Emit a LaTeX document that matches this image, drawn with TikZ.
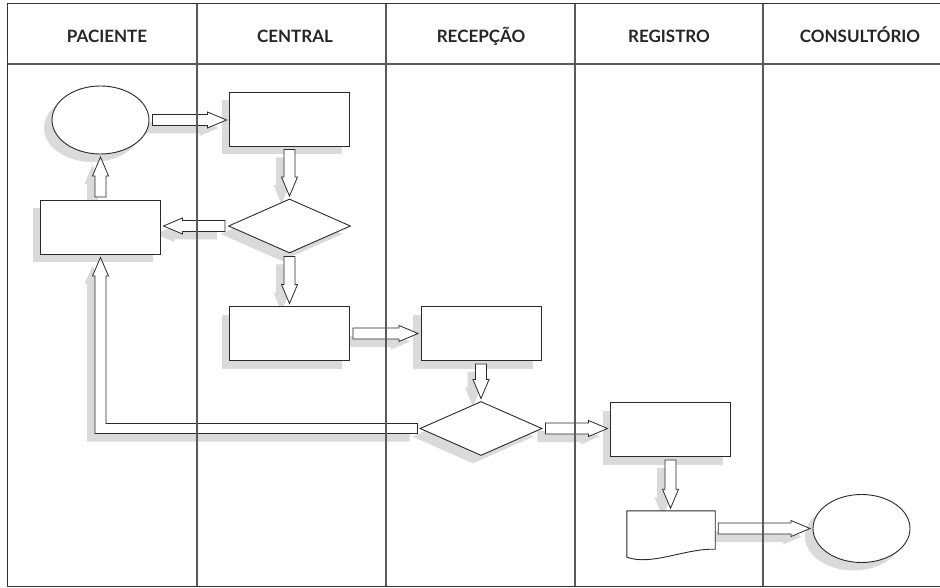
\documentclass[tikz,border=0pt]{standalone}
\usepackage{fontspec}
\setsansfont{Lato}
\usetikzlibrary{shapes.geometric,calc}

\definecolor{frameink}{HTML}{333333}
\definecolor{laneink}{HTML}{5A5A5A}
\definecolor{shadowgray}{HTML}{DADADA}
\definecolor{ink}{HTML}{2A2A2A}

\pgfdeclarelayer{paper}
\pgfdeclarelayer{bg}
\pgfdeclarelayer{fg}
\pgfsetlayers{paper,bg,main,fg}

\tikzset{
  shp/.style={draw=ink, line width=0.9pt, fill=white, inner sep=0pt},
  boxnode/.style={shp, rectangle, minimum width=120pt, minimum height=54pt},
  ovalnode/.style={shp, ellipse, minimum width=97pt, minimum height=68pt},
  decnode/.style={shp, diamond, minimum width=122pt, minimum height=54pt},
  shadowed/.style={fill=shadowgray, draw=none},
  arrowline/.style={draw=ink, line width=0.8pt, fill=white, line join=miter},
  header/.style={font=\sffamily\bfseries\fontsize{17}{20}\selectfont, text=black!85, anchor=base},
  frameline/.style={draw=frameink, line width=1.4pt},
  laneline/.style={draw=laneink, line width=1.2pt},
}

% a shape with its grey shadow offset down and to the left
\newcommand\shapenode[4]{%
  \begin{pgfonlayer}{bg}
    \node[#1, shadowed] at (#3-8,#4-8) {};
  \end{pgfonlayer}
  \node[#1] (#2) at (#3,#4) {};
}

% outline of a hollow block arrow of length \n2 along the local x axis
\newcommand\arrowoutline{%
  (3,-5.5) -- ({\n2-21.5},-5.5) -- ({\n2-21.5},-8) -- ({\n2-2.5},0) --
  ({\n2-21.5},8) -- ({\n2-21.5},5.5) -- (3,5.5) -- cycle}

% hollow block arrow from #1 to #2, with its shadow
\newcommand\blockarrow[2]{%
  \begin{pgfonlayer}{bg}
    \path[shadowed] let \p1=#1, \p2=#2, \n1={atan2(\y2-\y1,\x2-\x1)},
      \n2={veclen(\x2-\x1,\y2-\y1)} in
      [shift={(\x1-8pt,\y1-8pt)}, rotate=\n1] \arrowoutline;
  \end{pgfonlayer}
  \path[arrowline] let \p1=#1, \p2=#2, \n1={atan2(\y2-\y1,\x2-\x1)},
      \n2={veclen(\x2-\x1,\y2-\y1)} in
      [shift={(\x1,\y1)}, rotate=\n1] \arrowoutline;
}

\begin{document}
\begin{tikzpicture}[x=1pt, y=1pt]
  \useasboundingbox (0,0) rectangle (940,-588);
  \begin{pgfonlayer}{paper}
    \fill[white] (0,0) rectangle (940,-588);
  \end{pgfonlayer}

  % lane titles
  \node[header] (tpac) at (107,-43) {PACIENTE};
  \node[header] (tcen) at (295,-43) {CENTRAL};
  \node[header] (trec) at (481,-43) {RECEPÇÃO};
  \node[header] (treg) at (669,-43) {REGISTRO};
  \node[header] (tcon) at (860,-43) {CONSULTÓRIO};

  % flow shapes
  \shapenode{ovalnode}{o1}{100.5}{-120}
  \shapenode{boxnode}{b1}{289.5}{-119}
  \shapenode{decnode}{d1}{289.5}{-226}
  \shapenode{boxnode}{b2}{100.5}{-227.5}
  \shapenode{boxnode}{b3}{289.5}{-333.5}
  \shapenode{boxnode}{b4}{481}{-333.5}
  \shapenode{decnode}{d2}{481}{-428.5}
  \shapenode{boxnode}{b5}{670.5}{-429.5}
  \shapenode{ovalnode}{o2}{861.5}{-528.5}

  % document symbol
  \node[minimum width=88pt, minimum height=38pt, inner sep=0pt] (doc) at (671,-530) {};
  \begin{pgfonlayer}{bg}
    \path[shadowed, shift={(-8,-8)}] (doc.north west) -- (doc.north east) -- (doc.south east)
      .. controls ($(doc.south east)+(-30,1)$) and ($(doc.south west)+(25,-17)$) ..
      ($(doc.south west)+(0,-8)$) -- cycle;
  \end{pgfonlayer}
  \draw[shp] (doc.north west) -- (doc.north east) -- (doc.south east)
      .. controls ($(doc.south east)+(-30,1)$) and ($(doc.south west)+(25,-17)$) ..
      ($(doc.south west)+(0,-8)$) -- cycle;

  % block arrows between the shapes
  \blockarrow{(o1.east)}{(b1.west |- o1.east)}
  \blockarrow{(b1.south)}{(d1.north)}
  \blockarrow{(d1.west)}{(b2.east |- d1.west)}
  \blockarrow{(b2.north)}{(o1.south)}
  \blockarrow{(d1.south)}{(b3.north)}
  \blockarrow{(b3.east)}{(b4.west)}
  \blockarrow{(b4.south)}{(d2.north)}
  \blockarrow{(d2.east)}{(b5.west |- d2.east)}
  \blockarrow{(b5.south)}{(doc.north -| b5.south)}
  \blockarrow{(doc.east |- o2.west)}{(o2.west)}

  % return arrow from the second decision back to the patient box
  \begin{pgfonlayer}{bg}
    \path[shadowed] let \p1=(d2.west), \p2=(b2.south) in [shift={(-8,-8)}]
      (\x1-2,\y1-5) -- (\x2-5.5,\y1-5) -- (\x2-5.5,\y2-21) -- (\x2-8,\y2-21) --
      (\x2,\y2-2.5) -- (\x2+8,\y2-21) -- (\x2+5.5,\y2-21) -- (\x2+5.5,\y1+5) --
      (\x1-2,\y1+5) -- cycle;
  \end{pgfonlayer}
  \path[arrowline] let \p1=(d2.west), \p2=(b2.south) in
      (\x1-2,\y1-5) -- (\x2-5.5,\y1-5) -- (\x2-5.5,\y2-21) -- (\x2-8,\y2-21) --
      (\x2,\y2-2.5) -- (\x2+8,\y2-21) -- (\x2+5.5,\y2-21) -- (\x2+5.5,\y1+5) --
      (\x1-2,\y1+5) -- cycle;

  % lanes and frame on top
  \begin{pgfonlayer}{fg}
    \foreach \lx in {197, 386, 575, 763}
      \draw[laneline] (\lx,-3.5) -- (\lx,-586.5);
    \draw[frameline] (940,-3.5) -- (7.5,-3.5) -- (7.5,-586.5) -- (940,-586.5);
    \draw[laneline] (7.5,-64) -- (940,-64);
  \end{pgfonlayer}
\end{tikzpicture}
\end{document}
